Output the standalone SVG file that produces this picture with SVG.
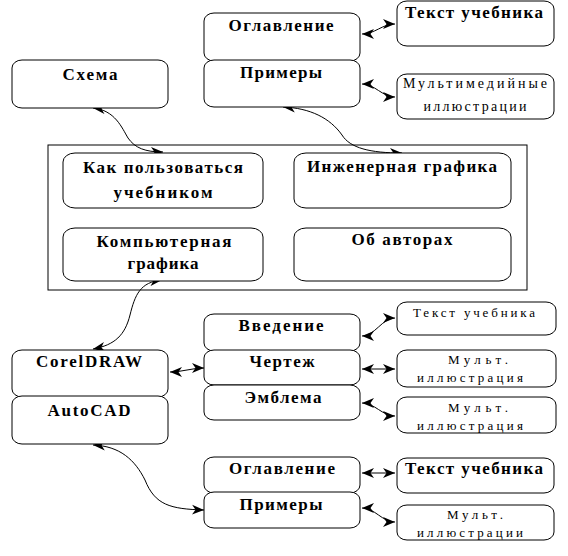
<svg xmlns="http://www.w3.org/2000/svg" width="568" height="556" viewBox="0 0 568 556">
<style>
.box{fill:#fff;stroke:#000;stroke-width:1}
.frame{fill:none;stroke:#000;stroke-width:1}
.b{font-family:"Liberation Serif",serif;font-weight:bold;font-size:17px;text-anchor:middle;fill:#000}
.s{font-family:"Liberation Serif",serif;font-size:14px;text-anchor:middle;fill:#000}
.t{font-family:"Liberation Serif",serif;font-size:13px;text-anchor:middle;fill:#000}
.c{fill:none;stroke:#000;stroke-width:1;marker-start:url(#ah);marker-end:url(#ah)}
</style>
<defs>
<marker id="ah" markerUnits="userSpaceOnUse" markerWidth="13" markerHeight="11" refX="12" refY="5" orient="auto-start-reverse" viewBox="0 0 13 10">
<path d="M0,0 L12,5 L0,10 L3.5,5 Z" fill="#000"/>
</marker>
</defs>
<rect width="568" height="556" fill="#fff"/>

<rect id="frame" class="frame" x="48" y="145" width="479" height="145"/>

<g id="connectors">
<path class="c" d="M93,108 C115,110 122,128 128,138 C135,148 145,152 163,152"/>
<path class="c" d="M283,107 C310,108 330,118 342,135 C350,148 370,153 402,153"/>
<path class="c" d="M93,349 C115,345 125,335 130,315 C135,295 140,282 162,280"/>
<path class="c" d="M93,445 C120,446 135,460 145,480 C155,505 170,509 204,510"/>
<path class="c" d="M170,372 C182,372 192,368 204,368"/>
<path class="c" d="M362,34 C375,34 382,24 395,24"/>
<path class="c" d="M362,84 C375,84 382,97 395,97"/>
<path class="c" d="M362,336 C375,336 382,318 395,318"/>
<path class="c" d="M362,369 L395,369"/>
<path class="c" d="M362,403 C375,403 382,416 395,416"/>
<path class="c" d="M362,473 L395,473"/>
<path class="c" d="M362,508 C375,508 382,522 395,522"/>
</g>

<g id="n-shema"><rect class="box" x="12" y="60" width="156" height="48" rx="10" ry="8"/><text class="b" x="90" y="80" textLength="55" lengthAdjust="spacing">Схема</text></g>
<g id="n-oglav1"><rect class="box" x="204" y="13" width="156" height="48" rx="10" ry="8"/><text class="b" x="281" y="31" textLength="105" lengthAdjust="spacing">Оглавление</text></g>
<g id="n-prim1"><rect class="box" x="204" y="60" width="156" height="47" rx="10" ry="8"/><text class="b" x="281" y="78" textLength="82" lengthAdjust="spacing">Примеры</text></g>
<g id="n-text1"><rect class="box" x="397" y="1" width="157" height="45" rx="10" ry="8"/><text class="b" x="474" y="18" textLength="138" lengthAdjust="spacing">Текст учебника</text></g>
<g id="n-multi1"><rect class="box" x="397" y="74" width="157" height="45" rx="10" ry="8"/><text class="s" x="475" y="88" textLength="144" lengthAdjust="spacing">Мультимедийные</text><text class="s" x="475" y="111" textLength="103" lengthAdjust="spacing">иллюстрации</text></g>

<g id="n-kak"><rect class="box" x="63" y="153" width="200" height="55" rx="12" ry="9"/><text class="b" x="163" y="173" textLength="160" lengthAdjust="spacing">Как пользоваться</text><text class="b" x="163" y="198" textLength="99" lengthAdjust="spacing">учебником</text></g>
<g id="n-inzh"><rect class="box" x="294" y="153" width="217" height="55" rx="12" ry="9"/><text class="b" x="402" y="172" textLength="190" lengthAdjust="spacing">Инженерная графика</text></g>
<g id="n-komp"><rect class="box" x="63" y="228" width="200" height="53" rx="12" ry="9"/><text class="b" x="164" y="247" textLength="135" lengthAdjust="spacing">Компьютерная</text><text class="b" x="163" y="269" textLength="71" lengthAdjust="spacing">графика</text></g>
<g id="n-ob"><rect class="box" x="294" y="228" width="217" height="53" rx="12" ry="9"/><text class="b" x="402" y="245" textLength="101" lengthAdjust="spacing">Об авторах</text></g>

<g id="n-corel"><rect class="box" x="12" y="350" width="156" height="47" rx="10" ry="8"/><text class="b" x="89" y="367" textLength="106" lengthAdjust="spacing">CorelDRAW</text></g>
<g id="n-autocad"><rect class="box" x="12" y="396" width="156" height="48" rx="10" ry="8"/><text class="b" x="89" y="416" textLength="83" lengthAdjust="spacing">AutoCAD</text></g>

<g id="n-vved"><rect class="box" x="204" y="314" width="156" height="37" rx="10" ry="8"/><text class="b" x="281" y="331" textLength="85" lengthAdjust="spacing">Введение</text></g>
<g id="n-chert"><rect class="box" x="204" y="350" width="156" height="35" rx="10" ry="8"/><text class="b" x="282" y="367" textLength="65" lengthAdjust="spacing">Чертеж</text></g>
<g id="n-embl"><rect class="box" x="204" y="385" width="156" height="35" rx="10" ry="8"/><text class="b" x="283" y="403" textLength="77" lengthAdjust="spacing">Эмблема</text></g>

<g id="n-text2"><rect class="box" x="397" y="302" width="159" height="33" rx="10" ry="8"/><text class="t" x="474" y="317" textLength="122" lengthAdjust="spacing">Текст учебника</text></g>
<g id="n-mult2"><rect class="box" x="397" y="350" width="159" height="37" rx="10" ry="8"/><text class="t" x="478" y="364" textLength="60" lengthAdjust="spacing">Мульт.</text><text class="t" x="470" y="382" textLength="106" lengthAdjust="spacing">иллюстрация</text></g>
<g id="n-mult3"><rect class="box" x="397" y="397" width="159" height="36" rx="10" ry="8"/><text class="t" x="478" y="412" textLength="60" lengthAdjust="spacing">Мульт.</text><text class="t" x="470" y="430" textLength="106" lengthAdjust="spacing">иллюстрация</text></g>

<g id="n-oglav2"><rect class="box" x="204" y="457" width="156" height="36" rx="10" ry="8"/><text class="b" x="282" y="474" textLength="106" lengthAdjust="spacing">Оглавление</text></g>
<g id="n-prim2"><rect class="box" x="204" y="492" width="156" height="36" rx="10" ry="8"/><text class="b" x="281" y="510" textLength="83" lengthAdjust="spacing">Примеры</text></g>
<g id="n-text3"><rect class="box" x="397" y="458" width="157" height="35" rx="10" ry="8"/><text class="b" x="474" y="474" textLength="138" lengthAdjust="spacing">Текст учебника</text></g>
<g id="n-mult4"><rect class="box" x="397" y="505" width="157" height="35" rx="10" ry="8"/><text class="t" x="475" y="519" textLength="56" lengthAdjust="spacing">Мульт.</text><text class="t" x="470" y="537" textLength="106" lengthAdjust="spacing">иллюстрации</text></g>
</svg>
